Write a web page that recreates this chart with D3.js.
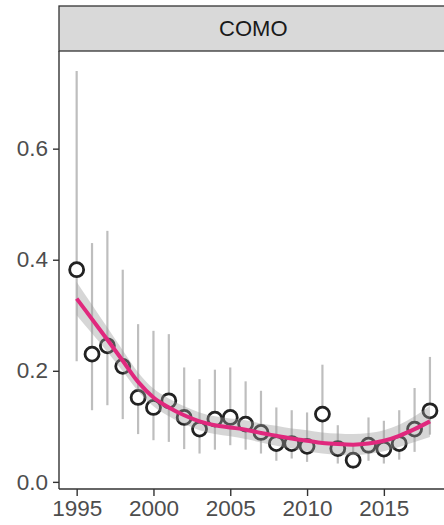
<!DOCTYPE html>
<html>
<head>
<meta charset="utf-8">
<script src="https://cdn.jsdelivr.net/npm/d3@7"></script>
<style>
  html, body { margin: 0; padding: 0; background: #ffffff; }
  svg { display: block; font-family: "Liberation Sans", Arial, Helvetica, sans-serif; }
</style>
</head>
<body>
<svg id="chart" width="444" height="525"></svg>
<script>
// Yearly estimates for COMO with confidence limits
const years = [1995, 1996, 1997, 1998, 1999, 2000, 2001, 2002, 2003, 2004, 2005, 2006,
               2007, 2008, 2009, 2010, 2011, 2012, 2013, 2014, 2015, 2016, 2017, 2018];
const estimate = [0.382, 0.230, 0.245, 0.208, 0.152, 0.134, 0.146, 0.116, 0.095, 0.113, 0.116, 0.104,
                  0.089, 0.069, 0.069, 0.064, 0.122, 0.060, 0.039, 0.066, 0.059, 0.069, 0.095, 0.128];
const lower = [0.217, 0.129, 0.138, 0.113, 0.086, 0.075, 0.072, 0.059, 0.051, 0.058, 0.066, 0.058,
               0.051, 0.038, 0.042, 0.036, 0.070, 0.033, 0.023, 0.038, 0.033, 0.040, 0.054, 0.085];
const upper = [0.740, 0.430, 0.452, 0.382, 0.284, 0.272, 0.266, 0.206, 0.185, 0.202, 0.206, 0.181,
               0.164, 0.134, 0.129, 0.125, 0.211, 0.102, 0.066, 0.116, 0.110, 0.129, 0.169, 0.225];
// Smoothed trend and its band
const smooth = [0.330, 0.293, 0.256, 0.218, 0.180, 0.152, 0.134, 0.120, 0.109, 0.102, 0.098, 0.094,
                0.088, 0.083, 0.078, 0.074, 0.070, 0.068, 0.067, 0.069, 0.074, 0.083, 0.095, 0.109];
const smoothHalfWidth = [0.030, 0.026, 0.022, 0.019, 0.017, 0.016, 0.016, 0.016, 0.016, 0.016, 0.016, 0.017,
                         0.017, 0.018, 0.018, 0.019, 0.019, 0.019, 0.019, 0.019, 0.019, 0.020, 0.023, 0.028];
const panelTitle = "COMO";
const xTicks = [1995, 2000, 2005, 2010, 2015];
const yTicks = [0.0, 0.2, 0.4, 0.6];

const svg = d3.select("#chart");

const panelLeft = 59, panelTop = 51, panelBottom = 489, stripTop = 6;
const xMin = 1995 - 23 * 0.05, xMax = 2018 + 23 * 0.05;
const x = d3.scaleLinear().domain([xMin, xMax]).range([panelLeft, panelLeft + 15.36 * (xMax - xMin)]);
const panelRight = x(xMax);
const yLo = 0.023, yHi = 0.740, pad = (yHi - yLo) * 0.05;
const y = d3.scaleLinear().domain([yLo - pad, yHi + pad]).range([panelBottom, panelTop]);

const data = years.map((yr, i) => ({
  year: yr, est: estimate[i], lo: lower[i], hi: upper[i],
  fit: smooth[i], fitLo: smooth[i] - smoothHalfWidth[i], fitHi: smooth[i] + smoothHalfWidth[i]
}));

const plot = svg.append("g");

// Strip with panel title
plot.append("rect")
  .attr("x", panelLeft).attr("y", stripTop)
  .attr("width", panelRight - panelLeft).attr("height", panelTop - stripTop)
  .attr("fill", "#d9d9d9").attr("stroke", "#333333").attr("stroke-width", 1.3);
plot.append("text")
  .attr("x", (panelLeft + panelRight) / 2).attr("y", (stripTop + panelTop) / 2)
  .attr("text-anchor", "middle").attr("dominant-baseline", "central")
  .attr("font-size", 22).attr("fill", "#1a1a1a")
  .text(panelTitle);

// Error bars
plot.append("g").selectAll("line").data(data).join("line")
  .attr("x1", d => x(d.year)).attr("x2", d => x(d.year))
  .attr("y1", d => y(d.lo)).attr("y2", d => y(d.hi))
  .attr("stroke", "#bebebe").attr("stroke-width", 2.2);

// Estimates
plot.append("g").selectAll("circle").data(data).join("circle")
  .attr("cx", d => x(d.year)).attr("cy", d => y(d.est))
  .attr("r", 7)
  .attr("fill", "#ffffff").attr("stroke", "#222222").attr("stroke-width", 2.8);

// Smoothing band
plot.append("path").datum(data)
  .attr("d", d3.area().curve(d3.curveMonotoneX)
    .x(d => x(d.year)).y0(d => y(d.fitLo)).y1(d => y(d.fitHi)))
  .attr("fill", "#999999").attr("fill-opacity", 0.4);

// Smoothed trend
plot.append("path").datum(data)
  .attr("d", d3.line().curve(d3.curveMonotoneX).x(d => x(d.year)).y(d => y(d.fit)))
  .attr("fill", "none").attr("stroke", "#e0287d").attr("stroke-width", 4);

// Axes
const xAxis = d3.axisBottom(x).tickValues(xTicks).tickFormat(d3.format("d"))
  .tickSizeInner(7).tickSizeOuter(0).tickPadding(4);
const yAxis = d3.axisLeft(y).tickValues(yTicks).tickFormat(d3.format(".1f"))
  .tickSizeInner(6).tickSizeOuter(0).tickPadding(5);

const gx = svg.append("g").attr("transform", `translate(0,${panelBottom})`).call(xAxis);
gx.select(".domain").attr("d", `M${panelLeft},0H${panelRight}`);
const gy = svg.append("g").attr("transform", `translate(${panelLeft},0)`).call(yAxis);
gy.select(".domain").attr("d", `M0,${panelBottom}V${panelTop}`);

[gx, gy].forEach(g => {
  g.select(".domain").attr("stroke", "#333333").attr("stroke-width", 1.4);
  g.selectAll(".tick line").attr("stroke", "#333333").attr("stroke-width", 1.4);
  g.selectAll(".tick text").attr("fill", "#4d4d4d").attr("font-size", 22.5)
    .attr("font-family", "'Liberation Sans', Arial, sans-serif");
});
</script>
</body>
</html>
